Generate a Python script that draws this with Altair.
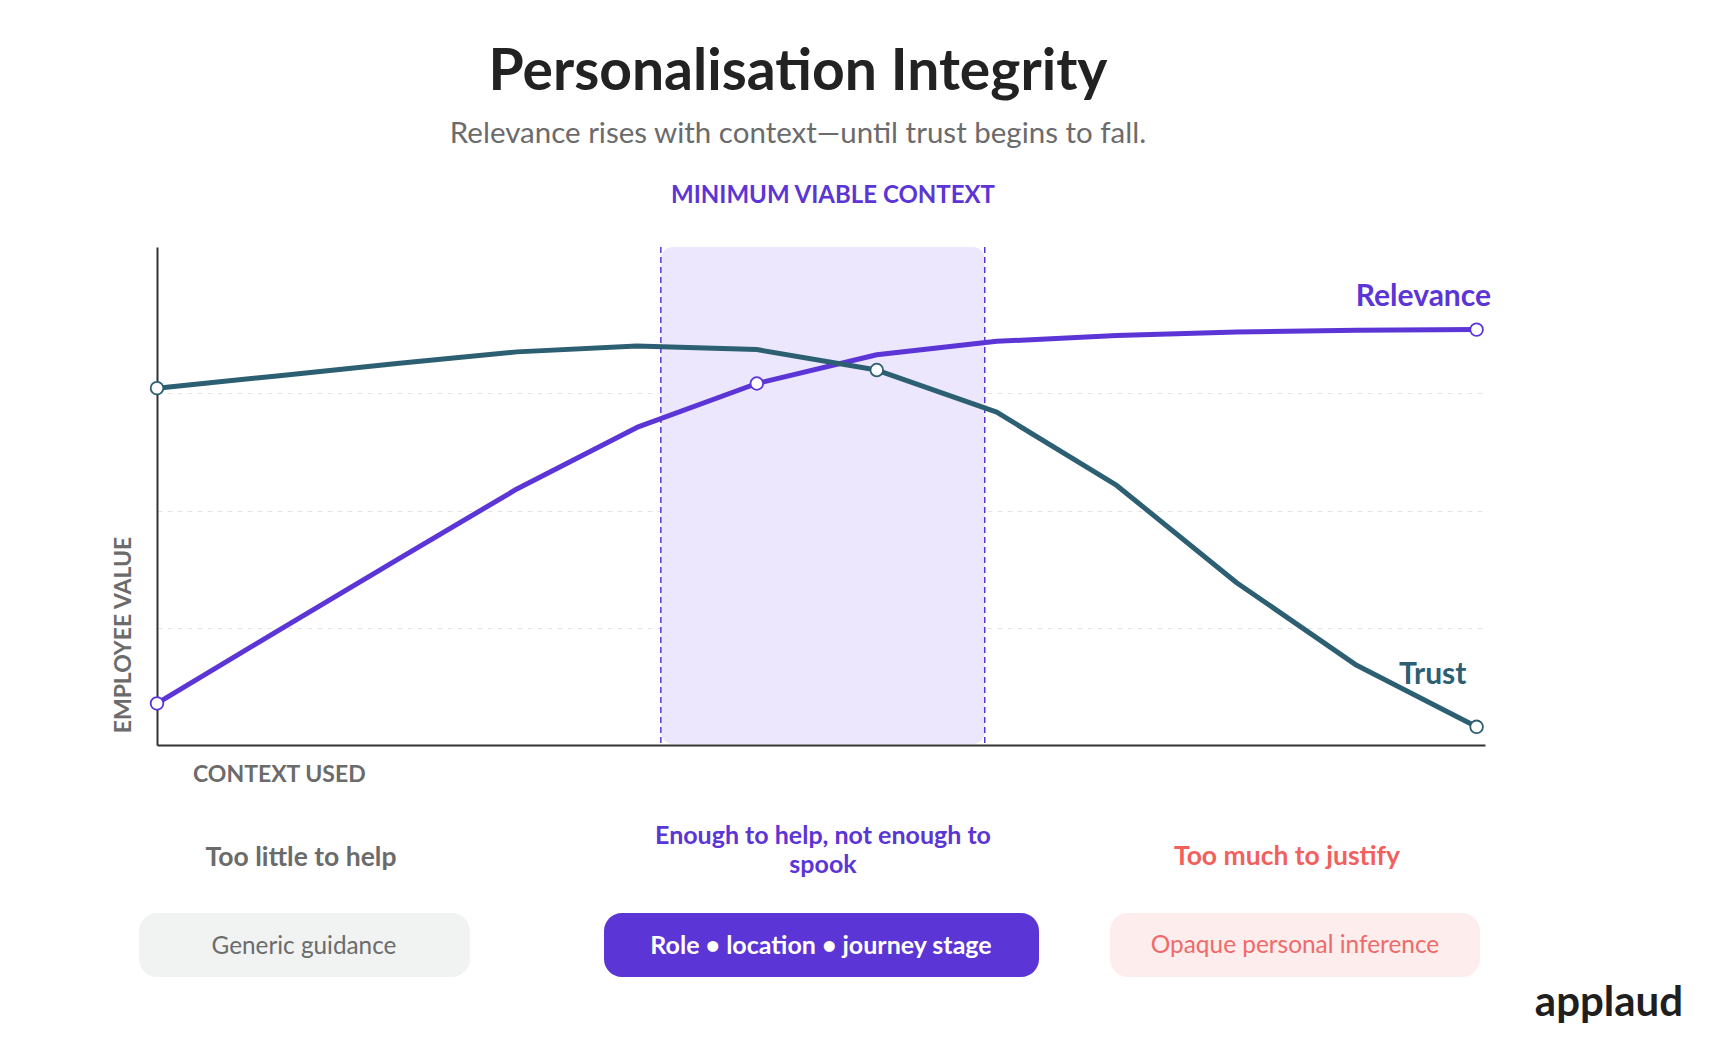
import altair as alt
import pandas as pd

# ---- data -------------------------------------------------------------
context_steps = list(range(12))
relevance = [7.1, 19.4, 31.6, 43.7, 54.2, 61.7, 66.6, 68.9, 69.9, 70.5, 70.8, 70.9]
trust = [60.9, 63.0, 65.1, 67.1, 68.1, 67.5, 64.0, 56.8, 44.3, 27.7, 13.6, 3.1]
relevance_markers = [0, 5, 11]
trust_markers = [0, 6, 11]
sweet_spot = [4.2, 6.9]          # minimum viable context band (start, end)

series_names = ["Relevance", "Trust"]
stage_headers = ["Too little to help", "Enough to help, not enough to\nspook", "Too much to justify"]
stage_examples = ["Generic guidance", "Role \u2022 location \u2022 journey stage", "Opaque personal inference"]

# ---- page geometry & styles --------------------------------------------
LEFT, TOP = 157, 247
PLOT_W, PLOT_H = 1328, 498
FONT = "Lato"
PURPLE = "#5B35D5"
TEAL = "#2D5F73"
GREY_TEXT = "#6B6B6B"
CORAL = "#F25F5C"

lines_df = pd.DataFrame({
    "step": context_steps * 2,
    "value": relevance + trust,
    "series": ["Relevance"] * len(relevance) + ["Trust"] * len(trust),
})
markers_df = lines_df[
    ((lines_df.series == "Relevance") & lines_df.step.isin(relevance_markers))
    | ((lines_df.series == "Trust") & lines_df.step.isin(trust_markers))
]

x_scale = alt.Scale(domain=[0, 11.07], nice=False, zero=False)
y_scale = alt.Scale(domain=[0, 85], nice=False)
x_axis = alt.Axis(domain=True, domainColor="#333333", domainWidth=2, ticks=False,
                  labels=False, grid=False, title=None)
y_axis = alt.Axis(domain=True, domainColor="#333333", domainWidth=2, ticks=False,
                  labels=False, grid=True, gridColor="#E4E4E4", gridDash=[5, 5],
                  gridWidth=1, values=[20, 40, 60], title=None)
color_scale = alt.Scale(domain=series_names, range=[PURPLE, TEAL])


def page_text(text, x, y, size, color, weight="normal", align="center", **kw):
    """Text placed in page pixels (converted to plot-area offsets)."""
    return alt.Chart(pd.DataFrame({"label": [text]})).mark_text(
        font=FONT, fontSize=size, color=color, fontWeight=weight, align=align,
        baseline="alphabetic", **kw
    ).encode(x=alt.value(x - LEFT), y=alt.value(y - TOP), text="label:N")


def page_box(x1, x2, y1, y2, fill):
    return alt.Chart(pd.DataFrame({"k": [0]})).mark_rect(
        color=fill, cornerRadius=18
    ).encode(x=alt.value(x1 - LEFT), x2=alt.value(x2 - LEFT),
             y=alt.value(y1 - TOP), y2=alt.value(y2 - TOP))


# shaded band and its dashed edges
zone = alt.Chart(pd.DataFrame({"start": [sweet_spot[0]], "end": [sweet_spot[1]]})).mark_rect(
    color="#ECE7FD", cornerRadius=12
).encode(
    x=alt.X("start:Q", scale=x_scale, axis=x_axis),
    x2="end:Q",
    y=alt.value(0),
    y2=alt.value(PLOT_H - 1),
)
edges = alt.Chart(pd.DataFrame({"edge": sweet_spot})).mark_rule(
    color=PURPLE, strokeDash=[6, 4], strokeWidth=1.5
).encode(
    x=alt.X("edge:Q", scale=x_scale, axis=x_axis),
    y=alt.value(0),
    y2=alt.value(PLOT_H),
)

lines = alt.Chart(lines_df).mark_line(strokeWidth=5, strokeJoin="round").encode(
    x=alt.X("step:Q", scale=x_scale, axis=x_axis),
    y=alt.Y("value:Q", scale=y_scale, axis=y_axis),
    color=alt.Color("series:N", scale=color_scale, legend=None),
)
points = alt.Chart(markers_df).mark_point(
    shape="circle", filled=True, fill="white", size=160, strokeWidth=1.8, opacity=1
).encode(
    x=alt.X("step:Q", scale=x_scale, axis=x_axis),
    y=alt.Y("value:Q", scale=y_scale, axis=y_axis),
    stroke=alt.Stroke("series:N", scale=color_scale, legend=None),
)

texts = [
    page_text("Personalisation Integrity", 798, 90, 57, "#222222", "bold"),
    page_text("Relevance rises with context\u2014until trust begins to fall.", 798, 143, 29.5, GREY_TEXT),
    page_text("MINIMUM VIABLE CONTEXT", 833, 203, 24, PURPLE, "bold"),
    page_text("Relevance", 1491, 306, 30, PURPLE, "bold", align="right"),
    page_text("Trust", 1399, 684, 30, TEAL, "bold", align="left"),
    page_text("CONTEXT USED", 193, 782, 23, GREY_TEXT, "bold", align="left"),
    page_text("EMPLOYEE VALUE", 131, 635, 23, GREY_TEXT, "bold", angle=270),
    page_text(stage_headers[0], 301, 866, 26.5, GREY_TEXT, "bold"),
    page_text(stage_headers[1], 823, 844, 25, PURPLE, "bold", lineBreak="\n", lineHeight=28.5),
    page_text(stage_headers[2], 1287, 865, 26.5, CORAL, "bold"),
]

boxes = [
    page_box(139, 470, 913, 977, "#F1F2F2"),
    page_text(stage_examples[0], 304, 954, 24.3, GREY_TEXT),
    page_box(604, 1039, 913, 977, PURPLE),
    page_text(stage_examples[1], 821, 954, 25, "white", "bold"),
    page_box(1110, 1480, 913, 977, "#FDEDED"),
    page_text(stage_examples[2], 1295, 953, 24.4, "#F06A6A"),
    page_text("applaud", 1609, 1016, 42, "#1F1F1F", "bold"),
]

chart = alt.layer(zone, edges, lines, points, *texts, *boxes).properties(
    width=PLOT_W,
    height=PLOT_H,
    padding={"left": LEFT, "top": TOP, "right": 1718 - LEFT - PLOT_W, "bottom": 1051 - TOP - PLOT_H},
    autosize=alt.AutoSizeParams(type="none"),
    background="white",
).configure_view(stroke=None)

chart.save("out.html", embed_options={"renderer": "svg", "actions": False})
